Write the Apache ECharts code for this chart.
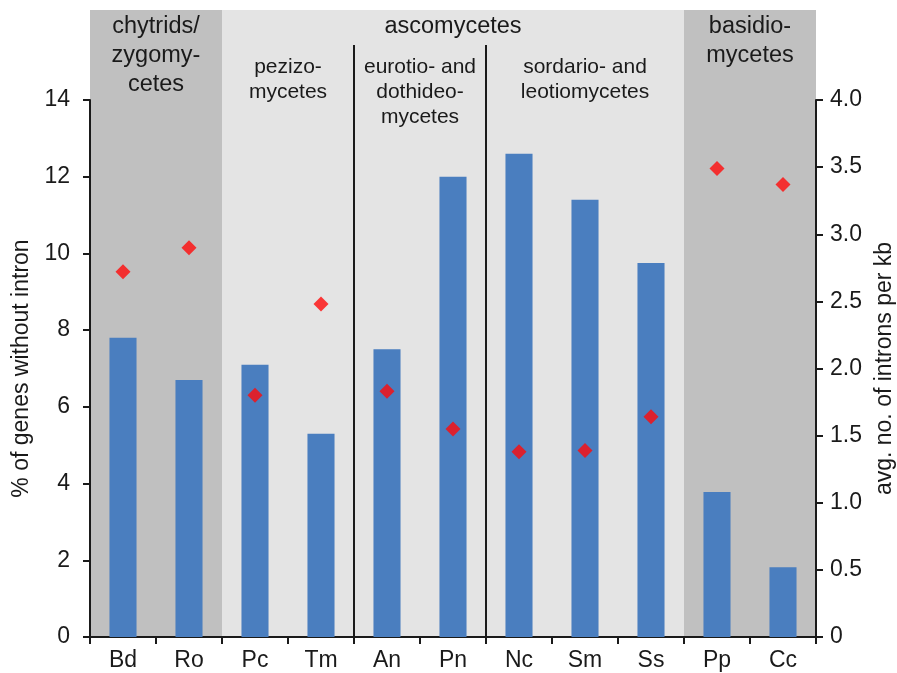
<!DOCTYPE html>
<html>
<head>
<meta charset="utf-8">
<script src="https://cdn.jsdelivr.net/npm/echarts@6/dist/echarts.min.js"></script>
<style>
  html, body { margin: 0; padding: 0; background: #fff; }
  #chart { width: 897px; height: 673px; }
</style>
</head>
<body>
<div id="chart"></div>
<script>
// Species (x axis)
const species = ['Bd', 'Ro', 'Pc', 'Tm', 'An', 'Pn', 'Nc', 'Sm', 'Ss', 'Pp', 'Cc'];
// % of genes without intron (left axis, bars)
const pctNoIntron = [7.8, 6.7, 7.1, 5.3, 7.5, 12.0, 12.6, 11.4, 9.75, 3.78, 1.82];
// average number of introns per kb (right axis, diamonds)
const intronsPerKb = [2.72, 2.9, 1.8, 2.48, 1.83, 1.55, 1.38, 1.39, 1.64, 3.49, 3.37];
// Taxonomic groups: [first index, last index, shade, label lines]
const groups = [
  [0, 1, '#c0c0c0', ['chytrids/', 'zygomy-', 'cetes']],
  [2, 8, '#e4e4e4', ['ascomycetes']],
  [9, 10, '#c0c0c0', ['basidio-', 'mycetes']]
];
// Ascomycete subgroups: [first index, last index, label lines]
const subgroups = [
  [2, 3, ['pezizo-', 'mycetes']],
  [4, 5, ['eurotio- and', 'dothideo-', 'mycetes']],
  [6, 8, ['sordario- and', 'leotiomycetes']]
];
const leftTicks = { min: 0, max: 14, interval: 2 };
const rightTicks = { min: 0, max: 4, interval: 0.5 };

const FONT = '"Liberation Sans", Arial, sans-serif';
const INK = '#1a1a1a';
const chart = echarts.init(document.getElementById('chart'));

const axisLine = { show: true, lineStyle: { color: INK, width: 2 } };
const axisTick = { show: true, length: 7, lineStyle: { color: INK, width: 2 } };

chart.setOption({
  animation: false,
  textStyle: { fontFamily: FONT },
  grid: { left: 90, right: 81, top: 100, bottom: 36, outerBoundsMode: 'none', containLabel: false },
  xAxis: {
    type: 'category',
    data: species,
    axisLine: axisLine,
    axisTick: axisTick,
    axisLabel: { color: INK, fontSize: 23, margin: 12, fontFamily: FONT },
    splitLine: { show: false }
  },
  yAxis: [
    {
      type: 'value', min: leftTicks.min, max: leftTicks.max, interval: leftTicks.interval,
      name: '% of genes without intron', nameLocation: 'middle', nameGap: 57, nameRotate: 90,
      nameTextStyle: { color: INK, fontSize: 23, fontFamily: FONT },
      axisLine: axisLine, axisTick: axisTick,
      axisLabel: { color: INK, fontSize: 23, margin: 20, fontFamily: FONT },
      splitLine: { show: false }
    },
    {
      type: 'value', min: rightTicks.min, max: rightTicks.max, interval: rightTicks.interval,
      name: 'avg. no. of introns per kb', nameLocation: 'middle', nameGap: 50, nameRotate: 90,
      nameTextStyle: { color: INK, fontSize: 23, fontFamily: FONT },
      axisLine: axisLine, axisTick: axisTick,
      axisLabel: {
        color: INK, fontSize: 23, margin: 14, fontFamily: FONT,
        formatter: v => (v === 0 ? '0' : v.toFixed(1))
      },
      splitLine: { show: false }
    }
  ],
  series: [
    {
      type: 'bar', data: pctNoIntron, yAxisIndex: 0, barWidth: '41%',
      itemStyle: { color: '#4a7ebf' }, z: 3
    },
    {
      type: 'scatter', data: intronsPerKb, yAxisIndex: 1, symbol: 'diamond', symbolSize: 15,
      itemStyle: { color: '#ff0a0a' }, z: 4
    }
  ]
});

// Shaded group bands, dividers and group labels placed from the category scale
function drawBands() {
  const c0 = chart.convertToPixel({ xAxisIndex: 0 }, species[0]);
  const c1 = chart.convertToPixel({ xAxisIndex: 0 }, species[1]);
  const step = c1 - c0;
  const yBase = chart.convertToPixel({ yAxisIndex: 0 }, 0);
  const edge = i => c0 + (i - 0.5) * step;
  const bandTop = 10;
  const g = [];
  groups.forEach(([a, b, fill, lines]) => {
    const x0 = edge(a), x1 = edge(b + 1);
    g.push({ type: 'rect', z: -10, silent: true,
      shape: { x: x0, y: bandTop, width: x1 - x0, height: yBase - bandTop },
      style: { fill: fill } });
    lines.forEach((t, k) => g.push({ type: 'text', z: 10, silent: true,
      x: (x0 + x1) / 2, y: 27 + k * 29,
      style: { text: t, fill: INK, font: '23.5px ' + FONT, align: 'center', verticalAlign: 'middle' } }));
  });
  subgroups.forEach(([a, b, lines], n) => {
    const x0 = edge(a), x1 = edge(b + 1);
    if (n > 0) {
      g.push({ type: 'line', z: 5, silent: true,
        shape: { x1: x0, y1: 45, x2: x0, y2: yBase },
        style: { stroke: INK, lineWidth: 2 } });
    }
    lines.forEach((t, k) => g.push({ type: 'text', z: 10, silent: true,
      x: (x0 + x1) / 2, y: 67 + k * 25,
      style: { text: t, fill: INK, font: '21px ' + FONT, align: 'center', verticalAlign: 'middle' } }));
  });
  chart.setOption({ graphic: { elements: g } });
}
drawBands();
</script>
</body>
</html>
